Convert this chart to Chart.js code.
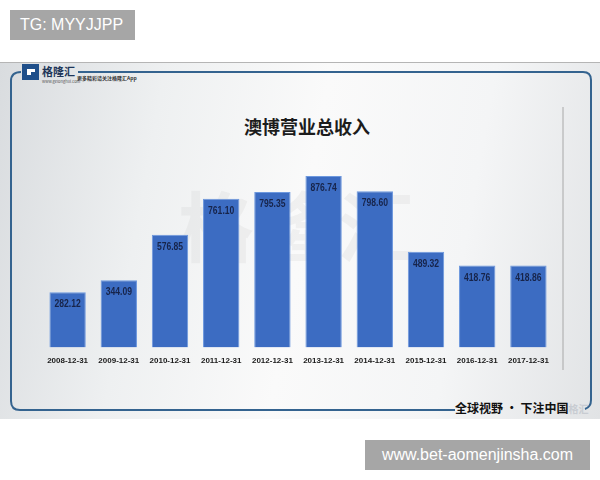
<!DOCTYPE html>
<html>
<head>
<meta charset="utf-8">
<script src="https://cdn.jsdelivr.net/npm/chart.js@4.4.1/dist/chart.umd.min.js"></script>
<style>
  body { margin: 0; width: 600px; height: 480px; background: #fff; position: relative; overflow: hidden; font-family: "Noto Sans CJK SC", "Noto Sans", sans-serif; }
  .tag { position: absolute; background: #a6a6a6; color: #fff; font-family: "Liberation Sans", Arial, sans-serif; }
  #panel { position: absolute; left: 0; top: 62px; width: 600px; height: 356px;
    border-top: 1px solid #b5b5b5;
    background: linear-gradient(100deg, #d9dcdf 0%, #eef0f1 25%, #fafafa 50%, #f4f5f6 75%, #e1e3e5 100%); }
  #wm { position: absolute; left: 178px; top: 168px; font-size: 76px; font-weight: 700; color: rgba(160,160,160,0.11); letter-spacing: 4px; }
  #title { position: absolute; left: 0; width: 614px; top: 113px; text-align: center; font-size: 18px; font-weight: 700; color: #1c1c1c; }
  #foot { position: absolute; left: 455px; top: 399px; font-size: 12px; font-weight: 700; color: #111; white-space: nowrap; }
  canvas { position: absolute; left: 0; top: 0; }
</style>
</head>
<body>
<div class="tag" style="left:10px;top:10px;width:125px;height:30px;line-height:30px;font-size:16px;text-indent:10px;">TG: MYYJJPP</div>
<div id="panel"></div>
<div id="wm">格隆汇</div>
<svg width="600" height="480" style="position:absolute;left:0;top:0">
  <path d="M 21 72 Q 11 72 11 81 L 11 401 Q 11 410 20 410 L 455 410" fill="none" stroke="#34638f" stroke-width="2"/>
  <path d="M 78 72 L 583 72 Q 591 72 591 80 L 591 400 Q 591 407 585 409" fill="none" stroke="#34638f" stroke-width="2"/>
  <line x1="563" y1="107" x2="563" y2="370" stroke="#a8a8a8" stroke-width="1"/>
  <rect x="22" y="64" width="17" height="16" fill="#1f4f8a"/>
  <rect x="27" y="69" width="8" height="6" fill="#ffffff"/>
  <rect x="31" y="72" width="8" height="8" fill="#1f4f8a"/>
</svg>
<div style="position:absolute;left:42px;top:63px;font-size:11px;font-weight:700;color:#1d3558;">格隆汇</div>
<div style="position:absolute;left:42px;top:78px;font-size:4px;color:#555;">www.gelonghui.com</div>
<div style="position:absolute;left:77px;top:74px;font-size:5px;font-weight:700;color:#333;">更多精彩请关注格隆汇App</div>
<div id="title">澳博营业总收入</div>
<div id="foot">全球视野 · 下注中国<span style="color:#c8ccd2;font-size:10px">格汇</span></div>
<canvas id="barChart" width="600" height="480"></canvas>
<div class="tag" style="left:365px;top:440px;width:225px;height:30px;line-height:30px;font-size:16px;text-align:center;">www.bet-aomenjinsha.com</div>
<script>
const categories = ['2008-12-31', '2009-12-31', '2010-12-31', '2011-12-31', '2012-12-31',
                    '2013-12-31', '2014-12-31', '2015-12-31', '2016-12-31', '2017-12-31'];
const revenue = [282.12, 344.09, 576.85, 761.10, 795.35, 876.74, 798.60, 489.32, 418.76, 418.86];
const valueLabels = ['282.12', '344.09', '576.85', '761.10', '795.35', '876.74', '798.60', '489.32', '418.76', '418.86'];

const sans = '"Liberation Sans", Arial, sans-serif';

// numbers printed inside the top of each bar (squeezed a bit, the original font is narrow)
const barLabels = {
    id: 'barLabels',
    afterDatasetsDraw(chart) {
        const c = chart.ctx;
        const meta = chart.getDatasetMeta(0);
        c.save();
        c.font = 'bold 11px ' + sans;
        c.fillStyle = '#17244a';
        c.textAlign = 'center';
        c.textBaseline = 'middle';
        meta.data.forEach((bar, i) => {
            c.save();
            c.translate(bar.x, bar.y + 12);
            c.scale(0.78, 1);
            c.fillText(valueLabels[i], 0, 0);
            c.restore();
        });
        c.restore();
    }
};

const ctx = document.getElementById('barChart');

new Chart(ctx, {
    type: 'bar',
    data: {
        labels: categories,
        datasets: [{
            data: revenue,
            backgroundColor: '#3c6cc2',
            borderColor: '#6d98de',
            borderWidth: 1,
            categoryPercentage: 1,
            barPercentage: 0.71
        }]
    },
    options: {
        responsive: false,
        animation: false,
        layout: { padding: { left: 42, right: 46, top: 152, bottom: 105 } },
        plugins: { legend: { display: false }, tooltip: { enabled: false } },
        scales: {
            x: {
                border: { display: false },
                grid: { display: false, drawTicks: false },
                ticks: { color: '#1a1a1a', padding: 9, autoSkip: false, maxRotation: 0, font: { family: sans, size: 8, weight: 'bold' } }
            },
            y: { display: false, min: 0, max: 1000 }
        }
    },
    plugins: [barLabels]
});
</script>
</body>
</html>
